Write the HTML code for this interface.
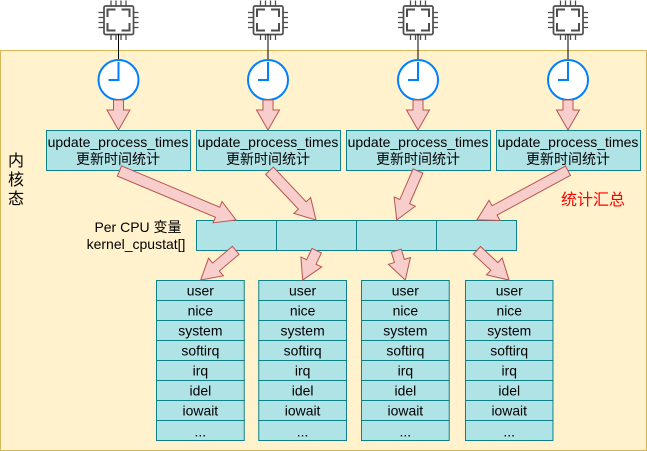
<!DOCTYPE html>
<html><head><meta charset="utf-8"><style>
html,body{margin:0;padding:0;background:#fff;overflow:hidden}
svg{display:block;filter:blur(0.3px)}
text{font-family:"Liberation Sans","Noto Sans CJK SC",sans-serif;font-size:14px;fill:#000;text-anchor:middle}
.b{fill:#b0e3e6;stroke:#0e8088;stroke-width:1}
.a{fill:#f8cecc;stroke:#b85450;stroke-width:1}
</style></head><body>
<svg width="647" height="451" viewBox="0 0 647 451" xmlns="http://www.w3.org/2000/svg">
<defs>
<g id="chip" fill="none" stroke="#4d4d4d">
<rect x="-14.500" y="-14" width="29.500" height="28.500" rx="1.500" stroke-width="1.700"/>
<path stroke-width="2" d="M-11-3V-10.500H-3M3-10.500H11V-3M11 3V10.500H3M-3 10.500H-11V3"/>
<path stroke-width="1.300" d="M-7.500-19.500V-14.500M-2.500-19.500V-14.500M2.500-19.500V-14.500M7.500-19.500V-14.500M-7.500 15V20M-2.500 15V20M2.500 15V20M7.500 15V20M-20-7.500H-15M-20-2.500H-15M-20 2.500H-15M-20 7.500H-15M15-7.500H20M15-2.500H20M15 2.500H20M15 7.500H20"/>
</g>
<g id="clock">
<path d="M0-46V-20" stroke="#000" stroke-width="1" fill="none"/>
<circle r="20" fill="#fff" stroke="#007fff" stroke-width="2"/>
<path d="M0-18V0H-10" fill="none" stroke="#007fff" stroke-width="2"/>
</g>
<g id="st">
<rect class="b" width="88" height="20" y="0"/><rect class="b" width="88" height="20" y="20"/><rect class="b" width="88" height="20" y="40"/><rect class="b" width="88" height="20" y="60"/><rect class="b" width="88" height="20" y="80"/><rect class="b" width="88" height="20" y="100"/><rect class="b" width="88" height="20" y="120"/><rect class="b" width="88" height="20" y="140"/>
<text x="44" y="15">user</text><text x="44" y="35">nice</text><text x="44" y="55">system</text><text x="44" y="75">softirq</text><text x="44" y="95">irq</text><text x="44" y="115">idel</text><text x="44" y="135">iowait</text><text x="44" y="156">...</text>
</g>
</defs>
<rect x="0.500" y="50.500" width="646" height="400" fill="#fff2cc" stroke="#d6b656"/>

<use href="#chip" x="118.500" y="20"/><use href="#chip" x="268" y="20"/><use href="#chip" x="418" y="20"/><use href="#chip" x="568" y="20"/>
<use href="#clock" x="118.500" y="80"/><use href="#clock" x="268" y="80"/><use href="#clock" x="418" y="80"/><use href="#clock" x="568" y="80"/>

<path class="a" transform="translate(118.500 100)" d="M-5 0V10H-11.500L0 30L11.500 10H5V0Z"/>
<path class="a" transform="translate(268 100)" d="M-5 0V10H-11.500L0 30L11.500 10H5V0Z"/>
<path class="a" transform="translate(418 100)" d="M-5 0V10H-11.500L0 30L11.500 10H5V0Z"/>
<path class="a" transform="translate(568 100)" d="M-5 0V10H-11.500L0 30L11.500 10H5V0Z"/>

<rect class="b" x="46.500" y="130.500" width="144" height="40"/>
<rect class="b" x="196.500" y="130.500" width="144" height="40"/>
<rect class="b" x="346.500" y="130.500" width="144" height="40"/>
<rect class="b" x="496.500" y="130.500" width="144" height="40"/>
<text x="118" y="147">update_process_times</text><text x="118" y="164">更新时间统计</text>
<text x="268" y="147">update_process_times</text><text x="268" y="164">更新时间统计</text>
<text x="418" y="147">update_process_times</text><text x="418" y="164">更新时间统计</text>
<text x="568" y="147">update_process_times</text><text x="568" y="164">更新时间统计</text>

<rect class="b" x="196.500" y="220.500" width="80" height="30"/>
<rect class="b" x="276.500" y="220.500" width="80" height="30"/>
<rect class="b" x="356.500" y="220.500" width="80" height="30"/>
<rect class="b" x="436.500" y="220.500" width="80" height="30"/>

<use href="#st" transform="translate(156.500 280.500) scale(.997 1)"/>
<use href="#st" transform="translate(258.750 280.500) scale(.997 1)"/>
<use href="#st" transform="translate(361.500 280.500) scale(.997 1)"/>
<use href="#st" transform="translate(465.500 280.500) scale(.994 1)"/>

<path class="a" transform="translate(119.500 171) rotate(22.800)" d="M0-5.500H106.400V-11.500L126.400 0L106.400 11.500V5.500H0Z"/>
<path class="a" transform="translate(269.500 170.700) rotate(46.700)" d="M0-5.300H47.800V-11.500L67.800 0L47.800 11.500V5.300H0Z"/>
<path class="a" transform="translate(418 171) rotate(113.500)" d="M0-5.300H33.400V-11.500L53.400 0L33.400 11.500V5.300H0Z"/>
<path class="a" transform="translate(568 170.700) rotate(151.600)" d="M0-5.300H83.500V-11.500L103.500 0L83.500 11.500V5.300H0Z"/>

<path class="a" transform="translate(235.700 250.300) rotate(139.700)" d="M0-5.200H25.900V-11.500L45.900 0L25.900 11.500V5.200H0Z"/>
<path class="a" transform="translate(316.700 250.700) rotate(115.500)" d="M0-5.200H12.500V-11.500L32.500 0L12.500 11.500V5.200H0Z"/>
<path class="a" transform="translate(396.300 250.700) rotate(73)" d="M0-5.200H10.700V-11.500L30.700 0L10.700 11.500V5.200H0Z"/>
<path class="a" transform="translate(477 250.300) rotate(42.900)" d="M0-5.200H23.700V-11.500L43.700 0L23.700 11.500V5.200H0Z"/>

<text x="138" y="232">Per CPU 变量</text>
<text x="136" y="249">kernel_cpustat[]</text>
<text x="16" y="166" style="font-size:16px">内</text>
<text x="16" y="185" style="font-size:16px">核</text>
<text x="16" y="204" style="font-size:16px">态</text>
<text x="593" y="205" style="font-size:16px;fill:#ff0000">统计汇总</text>
</svg>
</body></html>
